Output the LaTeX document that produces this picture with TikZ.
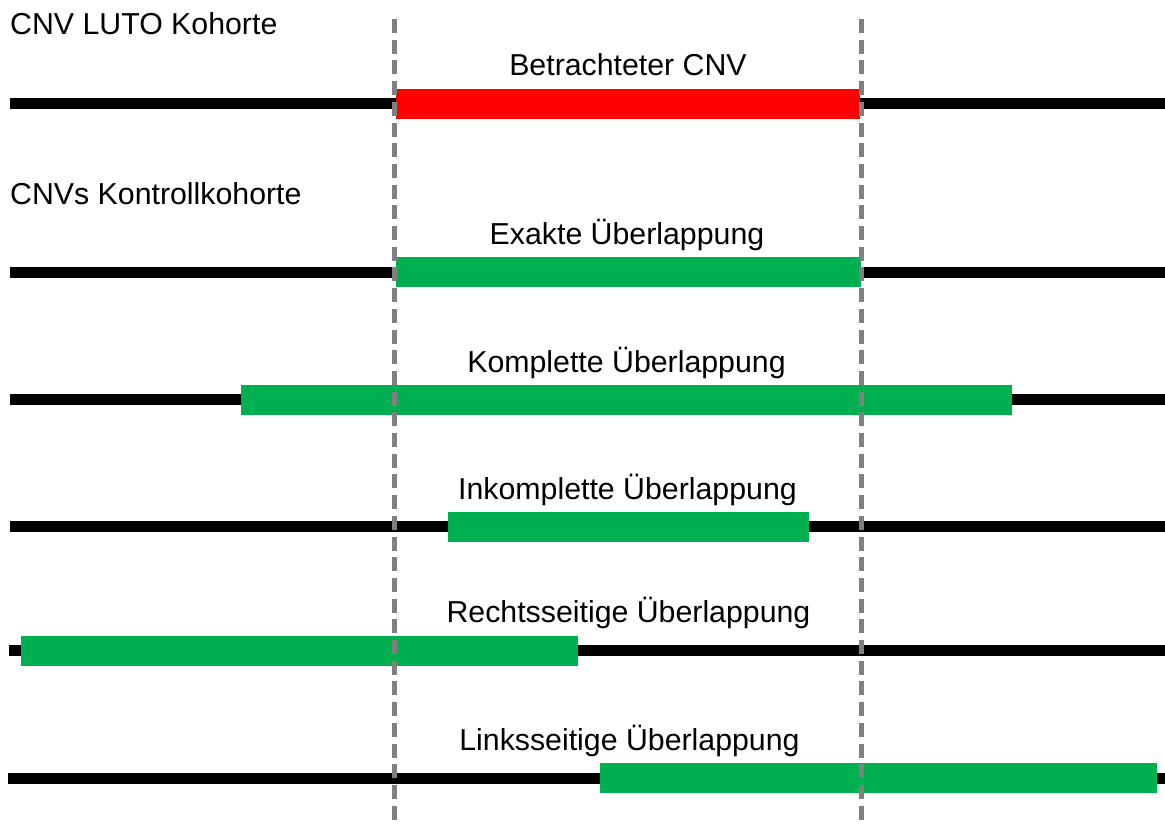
\documentclass[tikz,border=0pt]{standalone}
\usepackage{fontspec}
\setmainfont{Liberation Sans}
\usepackage{xcolor}
\definecolor{cnvred}{RGB}{255,0,0}
\definecolor{cnvgreen}{RGB}{0,176,80}
\definecolor{guidegray}{RGB}{128,128,128}

\begin{document}
\begin{tikzpicture}[x=1pt,y=-1pt]

\tikzset{
chrom/.style={line width=11pt,black},
bar/.style={rectangle,inner sep=0pt,minimum height=30pt},
guide/.style={line width=4.2pt,guidegray,dash pattern=on 14pt off 6.7pt},
lbl/.style={inner sep=0pt,anchor=base,font=\fontsize{30.3}{36}\selectfont},
title/.style={inner sep=0pt,anchor=base west,font=\fontsize{30.3}{36}\selectfont}
}

\useasboundingbox (0,0) rectangle (1165,823);

% chromosomes
\draw[chrom] (10,103.5)--(1165,103.5);
\draw[chrom] (10,272)--(1165,272);
\draw[chrom] (10,399.5)--(1165,399.5);
\draw[chrom] (10,526.5)--(1165,526.5);
\draw[chrom] (9,650.5)--(1165,650.5);
\draw[chrom] (8,778)--(1165,778);

% CNVs
\node[bar,fill=cnvred,minimum width=464pt] (luto) at (628,103.5) {};
\node[bar,fill=cnvgreen,minimum width=465pt] (exakt) at (628.5,272) {};
\node[bar,fill=cnvgreen,minimum width=771pt] (komplett) at (626.5,399.5) {};
\node[bar,fill=cnvgreen,minimum width=361pt] (inkomplett) at (628.5,526.5) {};
\node[bar,fill=cnvgreen,minimum width=557pt] (rechts) at (299.5,650.5) {};
\node[bar,fill=cnvgreen,minimum width=557pt] (links) at (878.5,778) {};

% Grenzen
\coordinate (l-top) at (394.5,19);
\coordinate (l-bot) at (394.5,823);
\coordinate (r-top) at (861.5,19);
\coordinate (r-bot) at (861.5,823);
\draw[guide] (l-top)--(l-bot);
\draw[guide] (r-top)--(r-bot);

\node[title] (kohorte) at (10,34) {CNV LUTO Kohorte};
\node[title] (kontrolle) at (10,204) {CNVs Kontrollkohorte};

\node[lbl] (t-luto) at (628,75.5) {Betrachteter CNV};
\node[lbl] (t-exakt) at (627,244) {Exakte Überlappung};
\node[lbl] (t-komplett) at (626.5,372) {Komplette Überlappung};
\node[lbl] (t-inkomplett) at (627.5,499) {Inkomplette Überlappung};
\node[lbl] (t-rechts) at (628.5,622) {Rechtsseitige Überlappung};
\node[lbl] (t-links) at (629.5,750) {Linksseitige Überlappung};

\end{tikzpicture}
\end{document}
